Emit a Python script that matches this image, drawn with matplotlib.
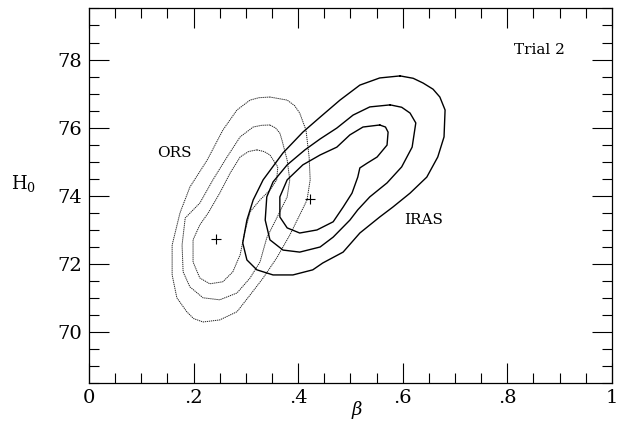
import numpy as np
import matplotlib
matplotlib.use("Agg")
import matplotlib.pyplot as plt
from matplotlib.ticker import MultipleLocator, FixedLocator, FixedFormatter

plt.rcParams['font.family'] = ['DejaVu Serif']
plt.rcParams['mathtext.fontset'] = 'dejavuserif'

# contour traces: (beta, H0)
ors_outer = [(0.346, 76.90), (0.325, 76.88), (0.308, 76.81), (0.283, 76.52), (0.256, 75.93),
             (0.226, 75.05), (0.193, 74.26), (0.174, 73.50), (0.159, 72.56), (0.159, 71.68),
             (0.168, 71.01), (0.187, 70.60), (0.200, 70.40), (0.218, 70.30), (0.250, 70.36),
             (0.283, 70.60), (0.308, 71.09), (0.333, 71.59), (0.359, 72.18), (0.384, 72.85),
             (0.403, 73.44), (0.417, 73.88), (0.423, 74.47), (0.421, 75.14), (0.415, 75.93),
             (0.403, 76.43), (0.393, 76.65), (0.379, 76.81)]
ors_mid = [(0.346, 76.08), (0.330, 76.07), (0.314, 76.02), (0.289, 75.73), (0.264, 75.14),
           (0.237, 74.47), (0.212, 73.79), (0.184, 73.35), (0.178, 72.56), (0.180, 71.77),
           (0.193, 71.33), (0.218, 71.01), (0.250, 70.95), (0.283, 71.15), (0.308, 71.59),
           (0.327, 72.06), (0.340, 72.77), (0.359, 73.35), (0.379, 73.97), (0.384, 74.47),
           (0.379, 75.05), (0.369, 75.64), (0.365, 75.84), (0.357, 75.99)]
ors_inner = [(0.321, 75.35), (0.305, 75.30), (0.289, 75.14), (0.270, 74.67), (0.250, 74.08),
             (0.228, 73.50), (0.212, 73.15), (0.199, 72.71), (0.199, 72.06), (0.212, 71.59),
             (0.231, 71.42), (0.256, 71.48), (0.275, 71.77), (0.289, 72.27), (0.298, 72.94),
             (0.308, 73.53), (0.327, 73.88), (0.346, 74.17), (0.359, 74.47), (0.361, 74.85),
             (0.346, 75.20), (0.335, 75.30)]

iras_outer = [(0.595, 77.52), (0.556, 77.46), (0.518, 77.25), (0.480, 76.81), (0.442, 76.31),
              (0.409, 75.87), (0.371, 75.26), (0.333, 74.47), (0.314, 73.88), (0.302, 73.29),
              (0.294, 72.62), (0.302, 72.12), (0.321, 71.83), (0.352, 71.68), (0.390, 71.68),
              (0.428, 71.83), (0.447, 72.03), (0.486, 72.35), (0.518, 72.91), (0.556, 73.38),
              (0.581, 73.67), (0.614, 74.08), (0.646, 74.55), (0.667, 75.14), (0.679, 75.73),
              (0.681, 76.52), (0.671, 76.90), (0.658, 77.13), (0.639, 77.31), (0.620, 77.45)]
iras_mid = [(0.576, 76.67), (0.537, 76.61), (0.505, 76.37), (0.474, 75.99), (0.442, 75.67),
            (0.413, 75.35), (0.379, 74.91), (0.352, 74.41), (0.340, 73.97), (0.337, 73.29),
            (0.346, 72.71), (0.371, 72.41), (0.403, 72.35), (0.442, 72.50), (0.467, 72.79),
            (0.499, 73.29), (0.514, 73.59), (0.537, 73.97), (0.570, 74.38), (0.598, 74.85),
            (0.618, 75.43), (0.625, 76.14), (0.614, 76.43), (0.598, 76.60)]
iras_inner = [(0.556, 76.08), (0.524, 76.02), (0.499, 75.79), (0.474, 75.43), (0.442, 75.20),
              (0.409, 74.91), (0.379, 74.47), (0.365, 73.97), (0.365, 73.38), (0.379, 73.06),
              (0.403, 72.91), (0.436, 73.00), (0.467, 73.24), (0.486, 73.67), (0.503, 74.08),
              (0.514, 74.55), (0.518, 74.82), (0.532, 74.96), (0.551, 75.14), (0.570, 75.49),
              (0.572, 75.87), (0.567, 76.02)]

ors_best = (0.243, 72.74)
iras_best = (0.423, 73.91)

xticks = [0, 0.2, 0.4, 0.6, 0.8, 1.0]
xlabels = ['0', '.2', '.4', '.6', '.8', '1']
yticks = [70, 72, 74, 76, 78]


def closed(pts):
    a = np.array(pts + [pts[0]])
    return a[:, 0], a[:, 1]


fig = plt.figure(figsize=(6.25, 4.21), dpi=100)
ax = fig.add_axes([0.1424, 0.0895, 0.8366, 0.8905])

for c in [ors_outer, ors_mid, ors_inner]:
    x, y = closed(c)
    ax.plot(x, y, color='#222222', lw=0.7, ls=(0, (1.3, 0.8)))
for c in [iras_outer, iras_mid, iras_inner]:
    x, y = closed(c)
    ax.plot(x, y, color='black', lw=1.0)

ax.plot(*ors_best, marker='+', color='black', ms=7, mew=0.8)
ax.plot(*iras_best, marker='+', color='black', ms=7, mew=0.8)

ax.set_xlim(0, 1)
ax.set_ylim(68.5, 79.5)

ax.xaxis.set_major_locator(FixedLocator(xticks))
ax.xaxis.set_major_formatter(FixedFormatter(xlabels))
ax.xaxis.set_minor_locator(MultipleLocator(0.05))
ax.yaxis.set_major_locator(FixedLocator(yticks))
ax.yaxis.set_minor_locator(MultipleLocator(0.5))

ax.tick_params(which='both', direction='in', top=True, right=True, width=0.8, labelsize=14)
ax.tick_params(which='major', length=14.5)
ax.tick_params(which='minor', length=7.5)
ax.tick_params(axis='x', pad=4)
ax.tick_params(axis='y', pad=5)
for s in ax.spines.values():
    s.set_linewidth(0.9)

ax.text(0.164, 75.26, 'ORS', fontsize=11, ha='center', va='center')
ax.text(0.639, 73.29, 'IRAS', fontsize=11, ha='center', va='center')
ax.text(0.862, 78.28, 'Trial 2', fontsize=11, ha='center', va='center')

fig.text(0.037, 0.565, r'H$_0$', fontsize=13, ha='center', va='center')
fig.text(0.571, 0.026, r'$\beta$', fontsize=13, ha='center', va='center')

fig.savefig('out.png', dpi=100)
